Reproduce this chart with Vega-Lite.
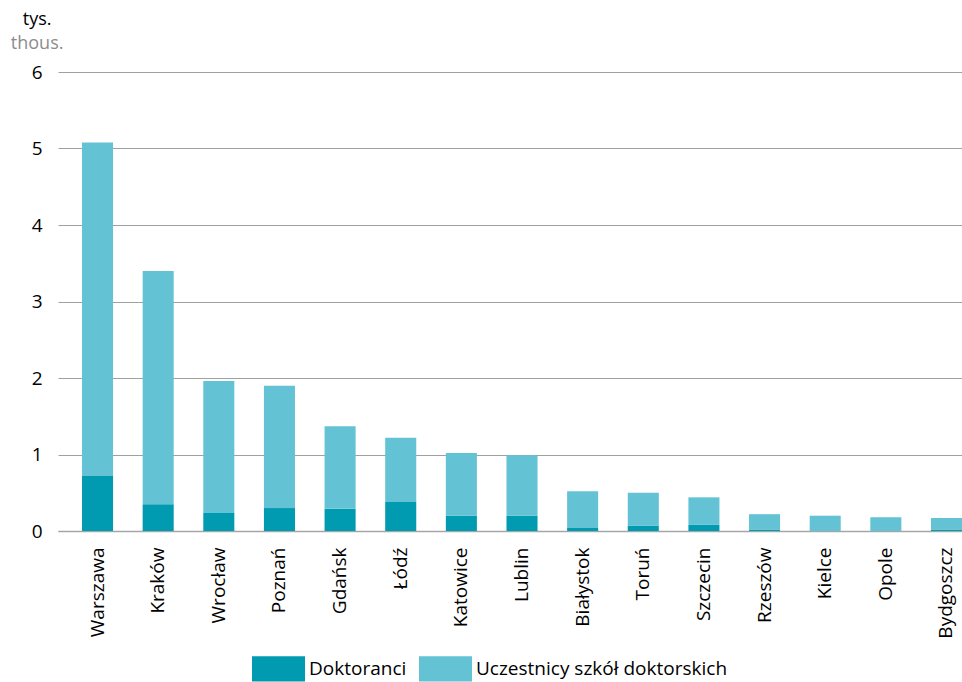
{
  "$schema": "https://vega.github.io/schema/vega-lite/v6.json",
  "autosize": {"type": "none"},
  "padding": {"left": 58, "top": 72, "right": 0, "bottom": 151},
  "width": 904,
  "height": 459,
  "background": "white",
  "config": {
    "font": "Open Sans",
    "view": {"stroke": null}
  },
  "title": {
    "text": "tys.",
    "subtitle": "thous.",
    "anchor": "start",
    "align": "center",
    "dx": 6,
    "fontSize": 18,
    "fontWeight": "normal",
    "color": "#000000",
    "subtitleFontSize": 18,
    "subtitleColor": "#8c8c8c",
    "subtitlePadding": 6,
    "offset": 10,
    "font": "Open Sans",
    "subtitleFont": "Open Sans"
  },
  "data": {
    "values": [
      {"miasto": "Warszawa", "seria": "Doktoranci", "v": 0.72},
      {"miasto": "Warszawa", "seria": "Uczestnicy szkół doktorskich", "v": 4.36},
      {"miasto": "Kraków", "seria": "Doktoranci", "v": 0.35},
      {"miasto": "Kraków", "seria": "Uczestnicy szkół doktorskich", "v": 3.05},
      {"miasto": "Wrocław", "seria": "Doktoranci", "v": 0.235},
      {"miasto": "Wrocław", "seria": "Uczestnicy szkół doktorskich", "v": 1.725},
      {"miasto": "Poznań", "seria": "Doktoranci", "v": 0.30},
      {"miasto": "Poznań", "seria": "Uczestnicy szkół doktorskich", "v": 1.60},
      {"miasto": "Gdańsk", "seria": "Doktoranci", "v": 0.29},
      {"miasto": "Gdańsk", "seria": "Uczestnicy szkół doktorskich", "v": 1.08},
      {"miasto": "Łódź", "seria": "Doktoranci", "v": 0.38},
      {"miasto": "Łódź", "seria": "Uczestnicy szkół doktorskich", "v": 0.84},
      {"miasto": "Katowice", "seria": "Doktoranci", "v": 0.20},
      {"miasto": "Katowice", "seria": "Uczestnicy szkół doktorskich", "v": 0.82},
      {"miasto": "Lublin", "seria": "Doktoranci", "v": 0.20},
      {"miasto": "Lublin", "seria": "Uczestnicy szkół doktorskich", "v": 0.79},
      {"miasto": "Białystok", "seria": "Doktoranci", "v": 0.04},
      {"miasto": "Białystok", "seria": "Uczestnicy szkół doktorskich", "v": 0.48},
      {"miasto": "Toruń", "seria": "Doktoranci", "v": 0.07},
      {"miasto": "Toruń", "seria": "Uczestnicy szkół doktorskich", "v": 0.43},
      {"miasto": "Szczecin", "seria": "Doktoranci", "v": 0.08},
      {"miasto": "Szczecin", "seria": "Uczestnicy szkół doktorskich", "v": 0.36},
      {"miasto": "Rzeszów", "seria": "Doktoranci", "v": 0.02},
      {"miasto": "Rzeszów", "seria": "Uczestnicy szkół doktorskich", "v": 0.20},
      {"miasto": "Kielce", "seria": "Doktoranci", "v": 0.0},
      {"miasto": "Kielce", "seria": "Uczestnicy szkół doktorskich", "v": 0.20},
      {"miasto": "Opole", "seria": "Doktoranci", "v": 0.0},
      {"miasto": "Opole", "seria": "Uczestnicy szkół doktorskich", "v": 0.18},
      {"miasto": "Bydgoszcz", "seria": "Doktoranci", "v": 0.02},
      {"miasto": "Bydgoszcz", "seria": "Uczestnicy szkół doktorskich", "v": 0.15}
    ]
  },
  "mark": {"type": "bar"},
  "encoding": {
    "x": {
      "field": "miasto",
      "type": "nominal",
      "sort": null,
      "scale": {"paddingInner": 0.488, "paddingOuter": 0.198, "align": 1},
      "axis": {
        "title": null,
        "labelAngle": -90,
        "labelFontSize": 19,
        "labelColor": "#000000",
        "labelPadding": 16,
        "ticks": false,
        "domainColor": "#a6a6a6",
        "domainWidth": 1.5,
        "labelFont": "Open Sans"
      }
    },
    "y": {
      "field": "v",
      "type": "quantitative",
      "stack": "zero",
      "scale": {"domain": [0, 6], "nice": false},
      "axis": {
        "title": null,
        "values": [0, 1, 2, 3, 4, 5, 6],
        "labelFontSize": 19,
        "labelColor": "#000000",
        "labelPadding": 16,
        "ticks": false,
        "domain": false,
        "gridColor": "#a0a0a0",
        "gridWidth": 1,
        "labelFont": "Open Sans"
      }
    },
    "color": {
      "field": "seria",
      "type": "nominal",
      "scale": {
        "domain": ["Doktoranci", "Uczestnicy szkół doktorskich"],
        "range": ["#009bb0", "#63c3d4"]
      },
      "legend": {
        "title": null,
        "orient": "none",
        "legendX": 194,
        "legendY": 570,
        "direction": "horizontal",
        "padding": 0,
        "labelFontSize": 19,
        "labelLimit": 500,
        "labelColor": "#000000",
        "labelFont": "Open Sans",
        "symbolType": "M-1,-0.48L1,-0.48L1,0.48L-1,0.48Z",
        "symbolSize": 2809,
        "symbolStrokeWidth": 0,
        "symbolOpacity": 1,
        "labelOffset": 4,
        "columnPadding": 12
      }
    },
    "order": {"field": "seria", "sort": "ascending"}
  }
}
